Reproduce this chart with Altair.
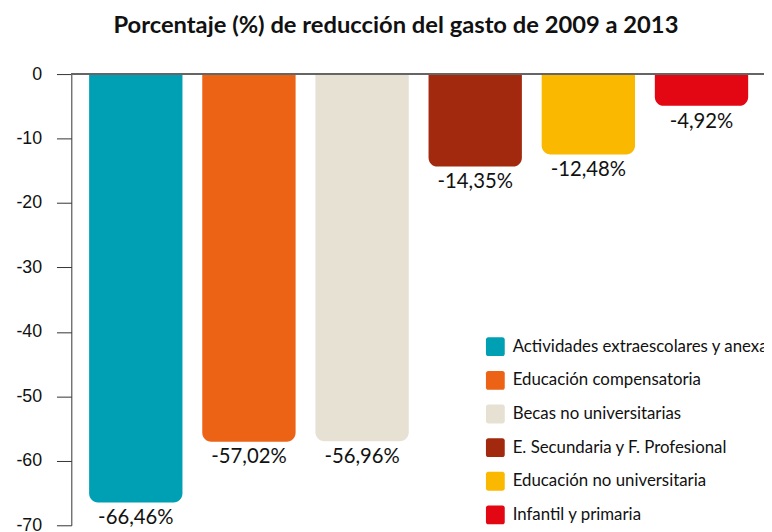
import altair as alt
import pandas as pd

categories = [
    "Actividades extraescolares y anexas",
    "Educación compensatoria",
    "Becas no universitarias",
    "E. Secundaria y F. Profesional",
    "Educación no universitaria",
    "Infantil y primaria",
]
values = [-66.46, -57.02, -56.96, -14.35, -12.48, -4.92]
colors = ["#00A0B4", "#EC6316", "#E7E1D4", "#A2290E", "#FBB800", "#E30613"]
y_ticks = [0, -10, -20, -30, -40, -50, -60, -70]

df = pd.DataFrame({
    "cat": categories,
    "v": values,
    "label": [f"{v:.2f}".replace(".", ",") + "%" for v in values],
})

W, H = 692, 456
font = "Lato"

x_enc = alt.X("cat:N", sort=categories, axis=None,
              scale=alt.Scale(paddingInner=0.175, paddingOuter=0.1136, align=0.692))
y_scale = alt.Scale(domain=[-70, 0], range=[H, 0], nice=False, zero=False)

bars = alt.Chart(df).mark_bar(
    cornerRadiusBottomLeft=9, cornerRadiusBottomRight=9, opacity=1
).encode(
    x=x_enc,
    y=alt.Y("v:Q", scale=y_scale, axis=alt.Axis(
        values=y_ticks, title=None, grid=False, labelFont="Liberation Sans",
        labelFontSize=18, labelColor="#111", labelPadding=15, tickSize=15,
        tickColor="#333", domainColor="#333", tickWidth=1, domainWidth=1,
        labelExpr="datum.value == 0 ? '0' : '-' + abs(datum.value)")),
    y2=alt.datum(0),
    color=alt.Color("cat:N", scale=alt.Scale(domain=categories, range=colors),
                    sort=categories,
                    legend=alt.Legend(
                        title=None, orient="none", legendX=419, legendY=266,
                        symbolType="M-0.75,-1H0.75A0.25,0.25 0 0 1 1,-0.75V0.75A0.25,0.25 0 0 1 0.75,1H-0.75A0.25,0.25 0 0 1 -1,0.75V-0.75A0.25,0.25 0 0 1 -0.75,-1Z",
                        symbolSize=361, symbolStrokeWidth=0, symbolOpacity=1,
                        labelFont=font, labelFontSize=17, labelColor="#111",
                        labelOffset=8, labelLimit=400, rowPadding=15, padding=0)),
)

labels = alt.Chart(df).mark_text(
    baseline="top", dy=6, fontSize=20.5, font=font, color="#111"
).encode(
    x=x_enc,
    y=alt.Y("v:Q", scale=y_scale),
    text="label:N",
)

zero = alt.Chart(df).mark_rule(color="#666", strokeWidth=1.5).encode(
    y=alt.datum(0),
    x=alt.value(0),
    x2=alt.value(W + 8),
)

chart = alt.layer(bars, labels, zero).properties(
    width=W, height=H,
    title=alt.TitleParams(
        "Porcentaje (%) de reducción del gasto de 2009 a 2013",
        font=font, fontSize=24, fontWeight="bold", color="#111",
        anchor="middle", dx=-18, offset=28),
    autosize=alt.AutoSizeParams(type="none"),
    padding={"left": 64, "top": 64, "right": 8, "bottom": 4},
).configure_view(stroke=None)

chart.save("out.html", embed_options={"renderer": "svg", "actions": False})
